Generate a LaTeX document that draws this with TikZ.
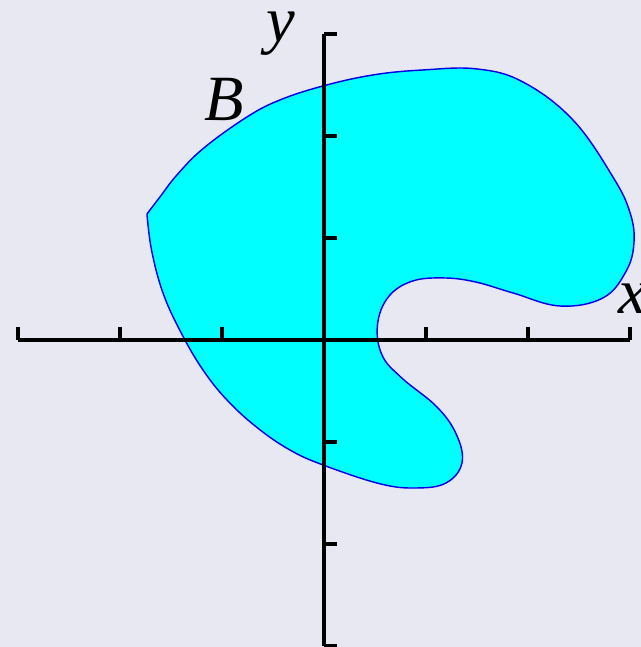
\documentclass[tikz,border=0pt]{standalone}
\usepackage{fontspec}
\setmainfont{Liberation Serif}
\usepackage{tikz}
\definecolor{bgpage}{RGB}{232,232,242}
\definecolor{regionfill}{RGB}{0,255,255}
\definecolor{regionline}{RGB}{0,0,230}
\tikzset{
    axisline/.style={line width=1pt,black},
    axislabel/.style={font=\fontsize{18}{20}\selectfont\itshape,inner sep=0pt}
}

\begin{document}
\begin{tikzpicture}
            \fill[bgpage] (-3.176,-3.010) rectangle (3.108,3.333);   % Background
            \useasboundingbox (-3.176,-3.010) rectangle (3.108,3.333);
            % Region B, sharp corner on the left
            \filldraw[fill=regionfill,draw=regionline,line width=0.4pt]
                plot[smooth,tension=0.65] coordinates {
                (-1.735,1.235) (-1.608,1.402) (-1.441,1.618)
                (-1.180,1.880) (-0.755,2.186) (-0.431,2.353) (-0.010,2.490)
                (0.480,2.598) (0.971,2.647) (1.500,2.657)
                (1.951,2.529) (2.441,2.157)
                (2.833,1.598) (3.000,1.250) (3.039,0.951)
                (2.960,0.670) (2.735,0.412)
                (2.314,0.333) (1.853,0.461) (1.480,0.570)
                (1.167,0.608) (0.860,0.575) (0.630,0.420)
                (0.525,0.150) (0.569,-0.147)
                (0.760,-0.370) (1.108,-0.657) (1.300,-0.930)
                (1.353,-1.206) (1.200,-1.400)
                (0.912,-1.451) (0.550,-1.410) (-0.010,-1.225)
                (-0.340,-1.075) (-0.660,-0.855) (-0.951,-0.588) (-1.186,-0.294)
                (-1.400,0.070) (-1.578,0.461)
                (-1.690,0.880) (-1.735,1.235)};
            \draw[axisline] (-3,0)--(3,0);                          % x-axis
            \draw[axisline] (0,-3)--(0,3);                          % y-axis
            \foreach \x in {-3,-2,-1,1,2,3}
                \draw[axisline] (\x,0)--(\x,0.13);                  % Ticks on x
            \foreach \y in {-3,-2,-1,1,2,3}
                \draw[axisline] (0,\y)--(0.13,\y);                  % Ticks on y
            \node[axislabel] (xlabel) at (3.03,0.40) {x};           % Label x
            \node[axislabel] (ylabel) at (-0.42,3.00) {y};          % Label y
            \node[axislabel] (blabel) at (-0.98,2.36) {B};          % Label B
        \end{tikzpicture}
\end{document}
